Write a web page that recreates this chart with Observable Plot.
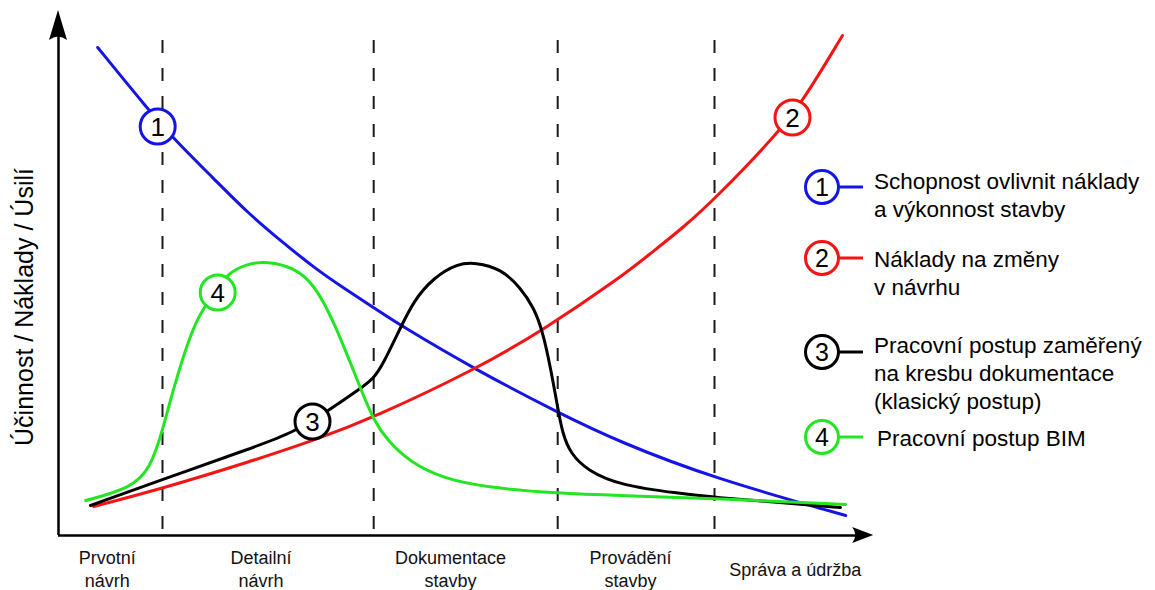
<!DOCTYPE html>
<html><head><meta charset="utf-8">
<script src="https://cdn.jsdelivr.net/npm/d3@7"></script>
<script src="https://cdn.jsdelivr.net/npm/@observablehq/plot@0.6"></script>
<style>
body{margin:0;background:#fff;}
#chart{width:1155px;height:590px;}
</style></head><body><div id="chart"></div>
<script>
// ---- data (x: project progress 0-100, y: relative level 0-100) ----
const phaseBounds = [13.0, 39.4, 62.4, 82.0];
const phaseLabels = ["Prvotní\nnávrh", "Detailní\nnávrh", "Dokumentace\nstavby", "Provádění\nstavby", "Správa a údržba"];
const phaseLabelX = [6.1, 25.3, 49.0, 71.5, 92.1];

const seriesNumbers = ["1", "2", "3", "4"];
const seriesColors = ["#1414e6", "#f51414", "#000000", "#22e622"];
const legendTexts = [
  "Schopnost ovlivnit náklady\na výkonnost stavby",
  "Náklady na změny\nv návrhu",
  "Pracovní postup zaměřený\nna kresbu dokumentace\n(klasický postup)",
  "Pracovní postup BIM"
];
const yLabel = "Účinnost / Náklady / Úsilí";

// 1 – ability to influence cost and performance
const schopnost = [[4.9,97.6],[11.1,85.4],[14.6,79.0],[19.4,71.4],[23.6,64.6],[27.75,59.0],[31.9,53.6],[36.1,49.0],[39.4,45.6],[42.75,42.0],[52.1,33.2],[62.4,24.6],[70.25,18.6],[82.0,11.4],[98.4,4.0]];
// 2 – cost of design changes
const naklady = [[4.4,5.8],[13.0,9.4],[24.0,14.8],[31.9,19.0],[39.4,23.6],[52.1,33.2],[60.5,41.0],[70.25,51.6],[74.0,56.4],[78.1,61.6],[82.1,67.4],[89.9,80.4],[93.1,87.0],[98.0,100.0]];
// 3 – traditional drawing-based workflow
const klasicky = [[4.0,6.0],[13.0,11.2],[24.0,17.4],[29.4,20.6],[33.75,25.0],[37.75,29.4],[39.4,31.4],[40.6,34.4],[42.4,40.4],[44.4,47.0],[46.9,51.6],[49.9,54.4],[52.1,54.6],[55.25,53.4],[57.75,49.6],[59.4,45.6],[60.5,41.0],[61.5,33.6],[62.4,25.6],[63.0,20.4],[64.0,16.4],[66.1,13.0],[70.25,10.0],[77.75,8.4],[82.1,7.6],[90.25,6.6],[97.75,5.6]];
// 4 – BIM workflow
const bim = [[3.4,7.0],[9.0,9.4],[11.5,13.4],[13.0,21.0],[14.4,29.6],[16.5,40.4],[18.1,45.6],[19.9,49.0],[21.1,52.4],[23.6,54.4],[26.1,54.8],[29.4,53.6],[31.9,50.4],[34.4,43.0],[37.75,29.4],[39.4,23.0],[41.1,19.0],[44.0,14.6],[48.1,11.4],[53.6,9.6],[62.4,8.4],[70.25,8.0],[82.1,7.4],[98.4,6.2]];

// positions of the numbered markers on the curves
const markerX = [12.4, 91.75, 31.75, 19.9];
const markerY = [81.8, 83.6, 22.8, 48.6];

// ---- build ----
const FONT = "'Liberation Sans', Arial, Helvetica, sans-serif";
const seriesList = [schopnost, naklady, klasicky, bim];
const markers = seriesNumbers.map((n, i) => ({n, x: markerX[i], y: markerY[i], c: seriesColors[i]}));

const plot = Plot.plot({
  width: 1155, height: 590,
  marginLeft: 58, marginRight: 297, marginTop: 35, marginBottom: 55,
  x: {domain: [0, 100], axis: null},
  y: {domain: [0, 100], axis: null},
  color: {type: "identity"},
  style: {fontFamily: FONT, background: "white", overflow: "visible"},
  marks: [
    Plot.ruleX(phaseBounds, {y1: 99, y2: 0.8, stroke: "#1a1a1a", strokeWidth: 2, strokeDasharray: "13,15"}),
    Plot.ruleY([0], {x1: 0, x2: 100.5, stroke: "#000", strokeWidth: 2.5}),
    Plot.ruleX([0], {y1: 0, y2: 102, stroke: "#000", strokeWidth: 2.5}),
    ...seriesList.map((s, i) => Plot.line(s, {x: d => d[0], y: d => d[1], stroke: seriesColors[i], strokeWidth: 3, curve: "basis"})),
    Plot.dot(markers, {x: "x", y: "y", r: 17.5, fill: "white", stroke: "c", strokeWidth: 3}),
    Plot.text(markers, {x: "x", y: "y", text: "n", fontSize: 26, fill: "#000", dy: 1}),
    Plot.text(phaseLabels, {x: (d, i) => phaseLabelX[i], y: 0, dy: 33, text: d => d, fontSize: 18, lineHeight: 1.28, fill: "#111"})
  ]
});
document.getElementById("chart").appendChild(plot);

// ---- decorations: arrow heads, y label, legend ----
const svg = d3.select(plot);
const X = plot.scale("x"), Y = plot.scale("y");
const x0 = X.apply(0), y0 = Y.apply(0);
const yTip = Y.apply(105), xTip = X.apply(101.9);
svg.append("path")
  .attr("d", `M${x0},${yTip} L${x0 + 9},${yTip + 30} Q${x0},${yTip + 23} ${x0 - 9},${yTip + 30} Z`)
  .attr("fill", "#000");
svg.append("path")
  .attr("d", `M${xTip},${y0} L${xTip - 21},${y0 - 8} Q${xTip - 15},${y0} ${xTip - 21},${y0 + 8} Z`)
  .attr("fill", "#000");

svg.append("text")
  .attr("transform", `translate(33,307) rotate(-90)`)
  .attr("text-anchor", "middle")
  .attr("font-family", FONT).attr("font-size", 25).attr("fill", "#000")
  .text(yLabel);

const legendCy = [187, 258, 352, 437];
const legendTextY = [181, 259, 345, 438];
const lg = svg.append("g").attr("font-family", FONT);
legendTexts.forEach((t, i) => {
  const cy = legendCy[i];
  lg.append("line").attr("x1", 838).attr("x2", 863).attr("y1", cy).attr("y2", cy)
    .attr("stroke", seriesColors[i]).attr("stroke-width", 3);
  lg.append("circle").attr("cx", 822).attr("cy", cy).attr("r", 16.5)
    .attr("fill", "white").attr("stroke", seriesColors[i]).attr("stroke-width", 3);
  lg.append("text").attr("x", 822).attr("y", cy).attr("dy", "0.35em")
    .attr("text-anchor", "middle").attr("font-size", 25).attr("fill", "#000").text(seriesNumbers[i]);
  t.split("\n").forEach((line, j) => {
    lg.append("text").attr("x", i === 3 ? 877 : 874).attr("y", legendTextY[i] + j * 28).attr("dy", "0.35em")
      .attr("text-anchor", "start")
      .attr("font-size", 22.5).attr("fill", "#000").text(line);
  });
});
</script></body></html>
